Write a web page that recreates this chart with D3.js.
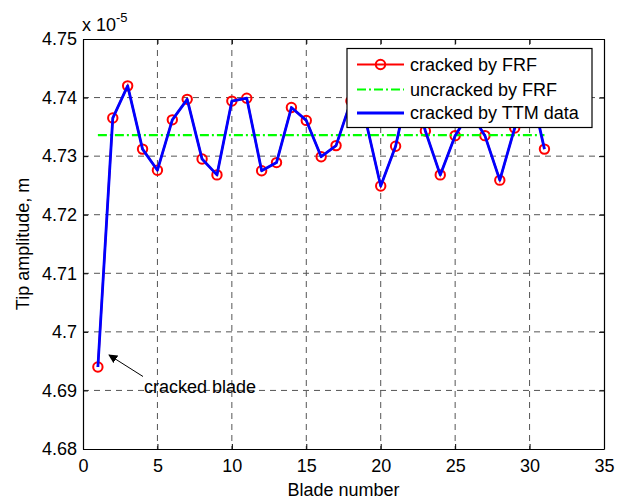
<!DOCTYPE html>
<html>
<head>
<meta charset="utf-8">
<script src="https://cdn.jsdelivr.net/npm/d3@7"></script>
<style>
  html, body { margin: 0; padding: 0; background: #fff; }
  svg { display: block; }
  text { font-family: "Liberation Sans", Arial, Helvetica, sans-serif; fill: #000; }
</style>
</head>
<body>
<svg id="chart" width="628" height="502"></svg>
<script>
// Blade index and tip amplitudes (units of 1e-5 m)
const bladeNumbers = [1, 2, 3, 4, 5, 6, 7, 8, 9, 10, 11, 12, 13, 14, 15, 16,
                      17, 18, 19, 20, 21, 22, 23, 24, 25, 26, 27, 28, 29, 30, 31];
const crackedFRF = [4.6940, 4.7365, 4.7420, 4.7312, 4.7276, 4.7362, 4.7397, 4.7295,
                    4.7268, 4.7394, 4.7399, 4.7275, 4.7289, 4.7383, 4.7361, 4.7299,
                    4.7318, 4.7394, 4.7360, 4.7249, 4.7317, 4.7433, 4.7343, 4.7268,
                    4.7335, 4.7376, 4.7335, 4.7259, 4.7348, 4.7425, 4.7312];
// TTM reconstruction coincides with the FRF result for every blade
const crackedTTM = crackedFRF.slice();
const uncrackedFRF = 4.7336;
const uncrackedRange = [1, 31];

const xTicks = [0, 5, 10, 15, 20, 25, 30, 35];
const yTicks = [4.68, 4.69, 4.70, 4.71, 4.72, 4.73, 4.74, 4.75];
const yTickLabels = ["4.68", "4.69", "4.7", "4.71", "4.72", "4.73", "4.74", "4.75"];

const legendItems = ["cracked by FRF", "uncracked by FRF", "cracked by TTM data"];

const svg = d3.select("#chart");
const m = { left: 83, right: 604, top: 39, bottom: 449 };
const fs = 18;

const x = d3.scaleLinear().domain([0, 35]).range([m.left, m.right]);
const y = d3.scaleLinear().domain([4.68, 4.75]).range([m.bottom, m.top]);

// dashed grid at interior ticks
const grid = svg.append("g").attr("stroke", "#555").attr("stroke-width", 1)
  .attr("stroke-dasharray", "6,5");
xTicks.slice(1, -1).forEach(t => {
  grid.append("line").attr("x1", x(t)).attr("x2", x(t))
    .attr("y1", m.top).attr("y2", m.bottom);
});
yTicks.slice(1, -1).forEach(t => {
  grid.append("line").attr("x1", m.left).attr("x2", m.right)
    .attr("y1", y(t)).attr("y2", y(t));
});

// axes with inward ticks on all sides
const tickLen = 5;
const axB = svg.append("g").attr("transform", `translate(0,${m.bottom})`)
  .call(d3.axisBottom(x).tickValues(xTicks).tickSizeInner(-tickLen).tickSizeOuter(0).tickPadding(10));
const axT = svg.append("g").attr("transform", `translate(0,${m.top})`)
  .call(d3.axisTop(x).tickValues(xTicks).tickSizeInner(-tickLen).tickSizeOuter(0).tickFormat(""));
const axL = svg.append("g").attr("transform", `translate(${m.left},0)`)
  .call(d3.axisLeft(y).tickValues(yTicks).tickSizeInner(-tickLen).tickSizeOuter(0).tickPadding(6)
    .tickFormat((d, i) => yTickLabels[i]));
const axR = svg.append("g").attr("transform", `translate(${m.right},0)`)
  .call(d3.axisRight(y).tickValues(yTicks).tickSizeInner(-tickLen).tickSizeOuter(0).tickFormat(""));
[axB, axT, axL, axR].forEach(a => {
  a.selectAll("path.domain").attr("stroke", "#000").attr("stroke-width", 1.2);
  a.selectAll(".tick line").attr("stroke", "#000");
  a.selectAll("text").attr("font-size", fs).attr("font-family", "Liberation Sans, Arial, sans-serif").attr("fill", "#000");
});

// multiplier label
const mult = svg.append("text").attr("x", 82).attr("y", 31).attr("font-size", fs);
mult.append("tspan").text("x 10");
mult.append("tspan").attr("dy", -9).attr("font-size", 13).text("-5");

// axis titles
svg.append("text").attr("x", (m.left + m.right) / 2).attr("y", 496)
  .attr("text-anchor", "middle").attr("font-size", fs).text("Blade number");
svg.append("text").attr("transform", `translate(29,${(m.top + m.bottom) / 2}) rotate(-90)`)
  .attr("text-anchor", "middle").attr("font-size", fs).text("Tip amplitude, m");

const line = d3.line().x((d, i) => x(bladeNumbers[i])).y(d => y(d));

// cracked by FRF: red line with circle markers
svg.append("path").datum(crackedFRF).attr("d", line)
  .attr("fill", "none").attr("stroke", "#f00").attr("stroke-width", 2);
svg.append("g").selectAll("circle").data(crackedFRF).join("circle")
  .attr("cx", (d, i) => x(bladeNumbers[i])).attr("cy", d => y(d)).attr("r", 4.7)
  .attr("fill", "none").attr("stroke", "#f00").attr("stroke-width", 2);

// uncracked by FRF: green dash-dot
svg.append("line").attr("x1", x(uncrackedRange[0])).attr("x2", x(uncrackedRange[1]))
  .attr("y1", y(uncrackedFRF)).attr("y2", y(uncrackedFRF))
  .attr("stroke", "#00ff00").attr("stroke-width", 2.2).attr("stroke-dasharray", "9,3,2,3");

// cracked by TTM data: blue line
svg.append("path").datum(crackedTTM).attr("d", line)
  .attr("fill", "none").attr("stroke", "#0000ff").attr("stroke-width", 2.8)
  .attr("stroke-linejoin", "round");

// annotation arrow
svg.append("defs").append("marker").attr("id", "arrowhead")
  .attr("viewBox", "0 0 10 10").attr("refX", 9).attr("refY", 5)
  .attr("markerWidth", 9).attr("markerHeight", 9).attr("orient", "auto")
  .append("path").attr("d", "M0,0 L10,5 L0,10 Z").attr("fill", "#000");
svg.append("line").attr("x1", 143).attr("y1", 376.5).attr("x2", 109).attr("y2", 355)
  .attr("stroke", "#000").attr("stroke-width", 1).attr("marker-end", "url(#arrowhead)");
svg.append("text").attr("x", 144).attr("y", 393).attr("font-size", fs).text("cracked blade");

// legend
const lg = svg.append("g");
lg.append("rect").attr("x", 347).attr("y", 48.5).attr("width", 245).attr("height", 79)
  .attr("fill", "#fff").attr("stroke", "#000").attr("stroke-width", 1.2);
const rowY = [64.5, 89.5, 113];
const lx1 = 357, lx2 = 404;
lg.append("line").attr("x1", lx1).attr("x2", lx2).attr("y1", rowY[0]).attr("y2", rowY[0])
  .attr("stroke", "#f00").attr("stroke-width", 2);
lg.append("circle").attr("cx", (lx1 + lx2) / 2).attr("cy", rowY[0]).attr("r", 4.7)
  .attr("fill", "none").attr("stroke", "#f00").attr("stroke-width", 2);
lg.append("line").attr("x1", lx1).attr("x2", lx2).attr("y1", rowY[1]).attr("y2", rowY[1])
  .attr("stroke", "#00ff00").attr("stroke-width", 2.2).attr("stroke-dasharray", "9,3,2,3");
lg.append("line").attr("x1", lx1).attr("x2", lx2).attr("y1", rowY[2]).attr("y2", rowY[2])
  .attr("stroke", "#0000ff").attr("stroke-width", 2.8);
legendItems.forEach((t, i) => {
  lg.append("text").attr("x", 410).attr("y", rowY[i]).attr("dy", "0.35em")
    .attr("font-size", fs).text(t);
});
</script>
</body>
</html>
